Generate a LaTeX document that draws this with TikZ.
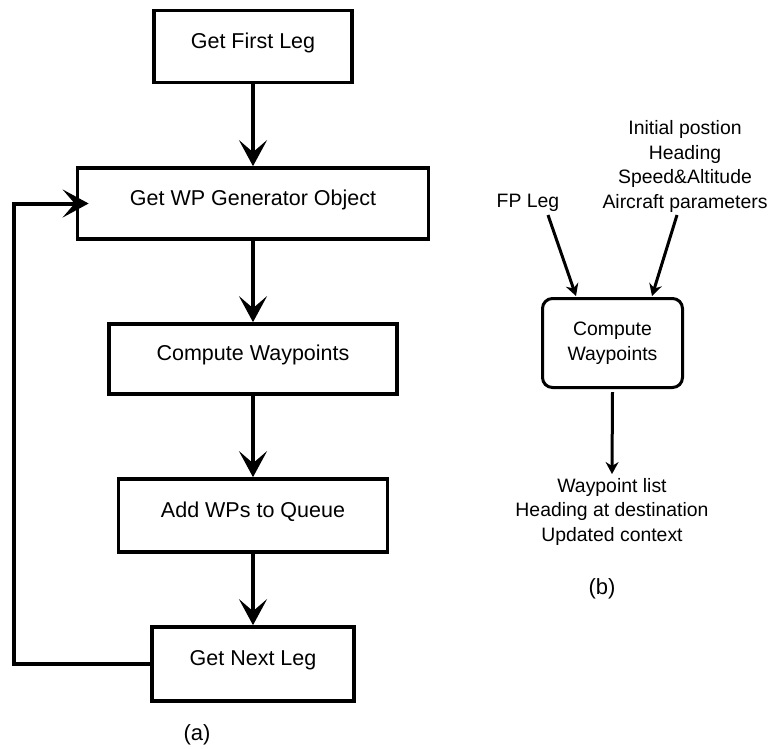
\documentclass[tikz,border=0pt]{standalone}
\usepackage{fontspec}
\setmainfont{Liberation Sans}
\usetikzlibrary{arrows.meta}

\tikzset{
  flowbox/.style={draw, line width=3.7pt, rectangle, minimum height=72pt,
    inner sep=0pt, text height=16pt, text depth=13pt,
    font=\fontsize{21.5}{26}\selectfont},
  flowarrow/.style={line width=4pt,
    -{Stealth[length=26pt, width=28pt, inset=12pt]}},
  stepbox/.style={draw, line width=3pt, rounded corners=10pt, rectangle,
    minimum width=140pt, minimum height=89pt, align=center,
    font=\fontsize{19.4}{24.5}\selectfont},
  plain/.style={align=center, inner sep=0pt, font=\fontsize{19.4}{24.5}\selectfont},
  thinarrow/.style={line width=3pt,
    -{Stealth[length=12pt, width=13pt, inset=4pt]}},
  caption/.style={inner sep=0pt, font=\fontsize{22}{26}\selectfont}
}

\begin{document}
\begin{tikzpicture}[x=1pt, y=1pt]
  \useasboundingbox (0,0) rectangle (774,-748);

  % (a) flow of the waypoint generator loop
  \node[flowbox, minimum width=198pt] (first) at (253,-46.5) {Get First Leg};
  \node[flowbox, minimum width=351pt, minimum height=71pt] (gen) at (253,-203.5) {Get WP Generator Object};
  \node[flowbox, minimum width=288pt, minimum height=70pt] (comp) at (253,-359) {Compute Waypoints};
  \node[flowbox, minimum width=269pt, minimum height=73pt] (queue) at (253,-515.5) {Add WPs to Queue};
  \node[flowbox, minimum width=202pt, minimum height=74pt] (next) at (253,-664) {Get Next Leg};

  \draw[flowarrow] (first) -- (gen);
  \draw[flowarrow] (gen) -- (comp);
  \draw[flowarrow] (comp) -- (queue);
  \draw[flowarrow] (queue) -- (next);

  \coordinate (loopend) at ([xshift=13pt]gen.west);
  \draw[flowarrow] (next.west) -| (14,-203.5) -- (loopend);

  \node[caption] (capa) at (197,-735) {(a)};

  % (b) inputs and outputs of one computation step
  \node[stepbox] (cw) at (612.5,-343) {Compute\\Waypoints};
  \node[plain] (fp) at (528,-203) {FP Leg};
  \node[plain] (inputs) at (685,-166.6) {Initial postion\\Heading\\Speed\&Altitude\\Aircraft parameters};
  \node[plain] (outputs) at (612,-511.6) {Waypoint list\\Heading at destination\\Updated context};

  \coordinate (fpstart) at (548,-215);
  \coordinate (instart) at (677,-215);
  \coordinate (fpend) at (576,-296);
  \coordinate (inend) at (652,-296);
  \coordinate (outstart) at ([yshift=-3pt]cw.south);
  \coordinate (outend) at (612,-474);
  \draw[thinarrow] (fpstart) -- (fpend);
  \draw[thinarrow] (instart) -- (inend);
  \draw[thinarrow] (outstart) -- (outend);

  \node[caption] (capb) at (602,-589) {(b)};
\end{tikzpicture}
\end{document}
